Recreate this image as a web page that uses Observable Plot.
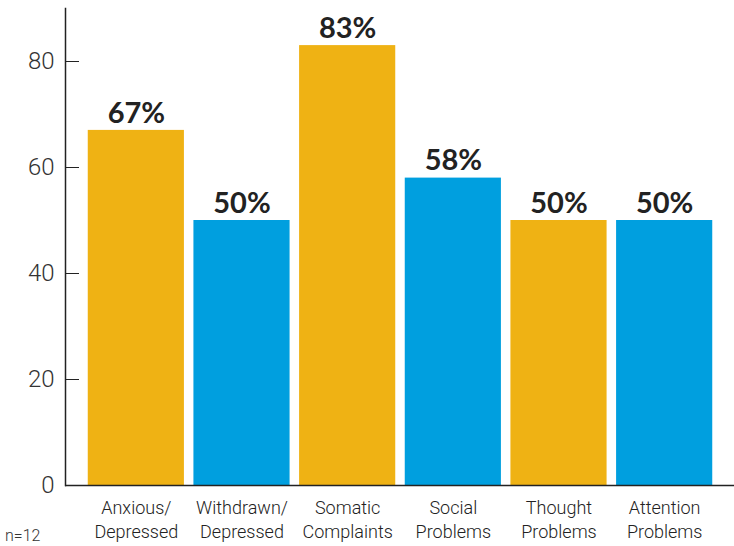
<!DOCTYPE html>
<html>
<head>
<meta charset="utf-8">
<script src="https://cdn.jsdelivr.net/npm/d3@7"></script>
<script src="https://cdn.jsdelivr.net/npm/@observablehq/plot@0.6"></script>
<style>
  html, body { margin: 0; padding: 0; background: #fff; }
  #chart { position: relative; width: 734px; height: 546px; }
  #caption { position: absolute; left: 5px; top: 526px; font: 300 16px Roboto, sans-serif; color: #333; }
</style>
</head>
<body>
<div id="chart"><div id="caption">n=12</div></div>
<script>
const categories = ["Anxious/\nDepressed", "Withdrawn/\nDepressed", "Somatic\nComplaints", "Social\nProblems", "Thought\nProblems", "Attention\nProblems"];
const values = [67, 50, 83, 58, 50, 50];
const groups = ["g1", "g2", "g1", "g2", "g1", "g2"];
const yTicks = [0, 20, 40, 60, 80];

const data = categories.map((c, i) => ({category: c, value: values[i], group: groups[i]}));

const chart = Plot.plot({
  width: 734,
  height: 546,
  marginLeft: 65,
  marginRight: 0,
  marginTop: 8,
  marginBottom: 61,
  style: {fontFamily: "Lato, sans-serif", background: "#fff"},
  x: {domain: categories, range: [83, 717], paddingInner: 0.09, paddingOuter: 0.045, round: false, label: null},
  y: {domain: [0, 90], label: null},
  color: {domain: ["g1", "g2"], range: ["#EFB214", "#009FDF"]},
  marks: [
    Plot.barY(data, {x: "category", y: "value", fill: "group"}),
    Plot.text(data, {x: "category", y: "value", text: d => d.value + "%", dy: -17, fontSize: 29, fontWeight: "bold", fill: "#222"}),
    Plot.axisY({ticks: yTicks, tickSize: -14, tickPadding: 25, fontSize: 24, fontFamily: "Roboto, sans-serif", fontWeight: 300, fill: "#333", stroke: "#222", label: null}),
    Plot.axisX({tickSize: 0, tickPadding: 12, fontSize: 18, fontFamily: "Roboto, sans-serif", fontWeight: 300, fill: "#222", lineHeight: 1.3, label: null}),
    Plot.frame({anchor: "left", stroke: "#222", strokeWidth: 1.5}),
    Plot.ruleY([0], {stroke: "#222", strokeWidth: 1.5})
  ]
});
document.getElementById("chart").prepend(chart);
</script>
</body>
</html>
